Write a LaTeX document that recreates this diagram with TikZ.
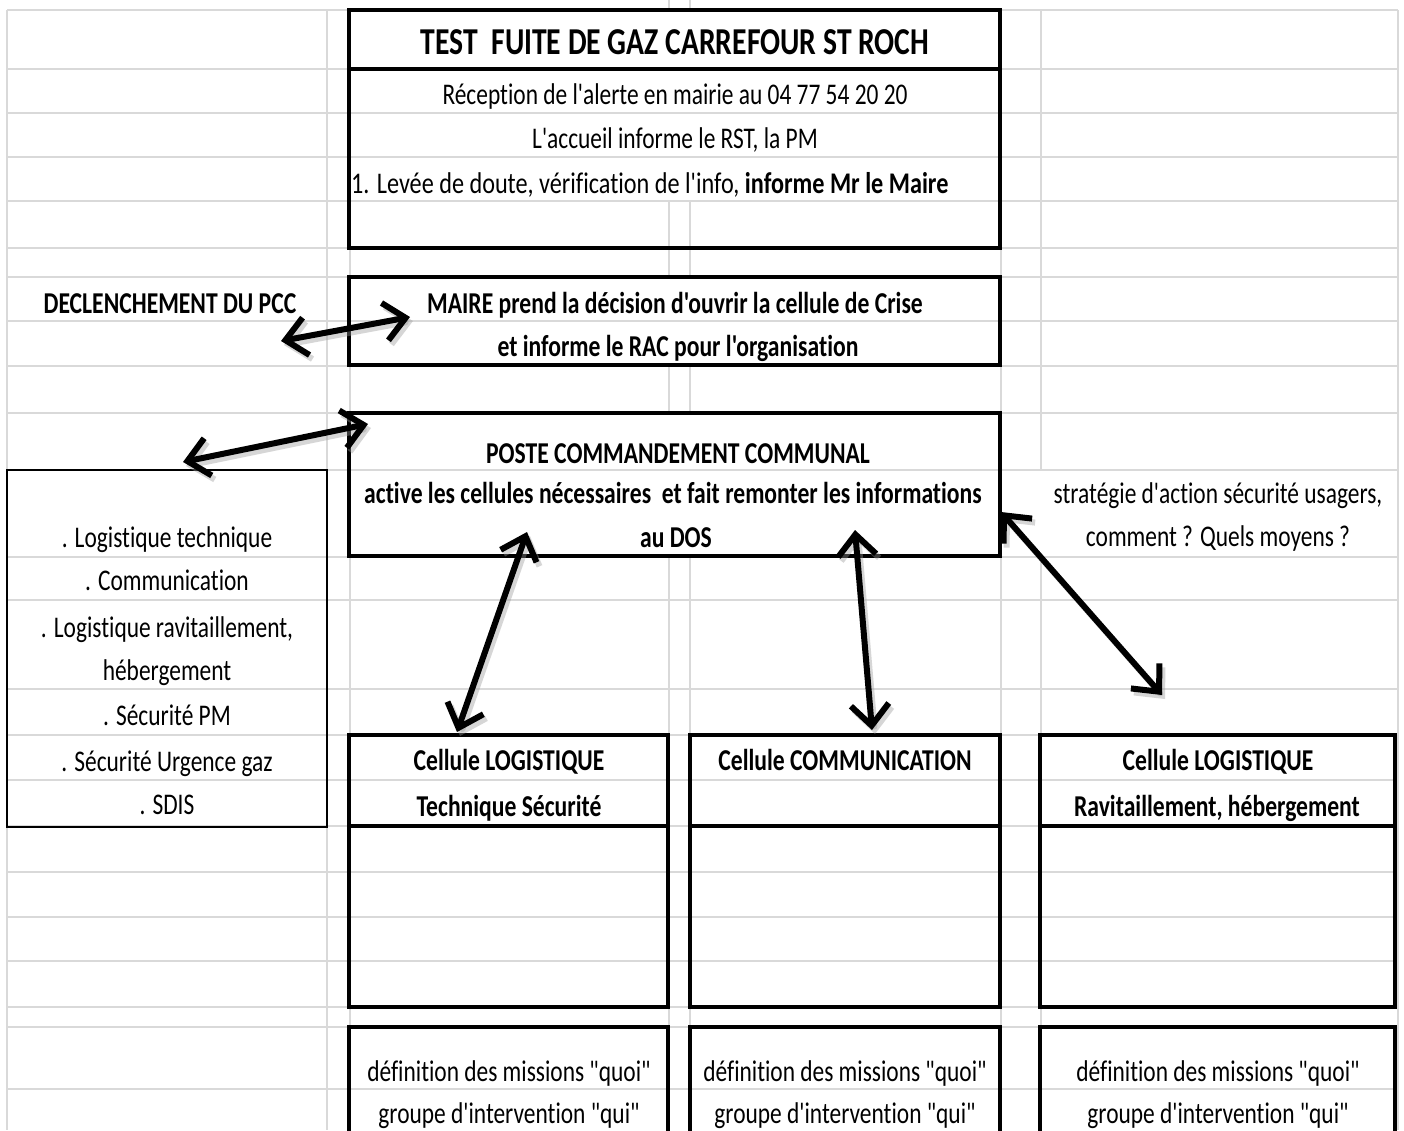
\documentclass[tikz,border=0pt]{standalone}
\usepackage{fontspec}
\usepackage{graphicx}
\defaultfontfeatures{}
\setmainfont{Carlito}[FakeStretch=0.78,Ligatures={TeXOff,CommonOff}]
\usetikzlibrary{arrows.meta}
\definecolor{gridgray}{RGB}{217,217,217}
\begin{document}
\begin{tikzpicture}[x=1pt,y=-1pt,
  grid/.style={draw=gridgray,line width=2.5pt},
  boxline/.style={draw=black,line width=4.5pt},
  box/.style={boxline,rectangle,inner sep=0pt,outer sep=0pt,minimum width=#1},
  thinbox/.style={draw=black,line width=2.5pt,rectangle,inner sep=0pt,outer sep=0pt},
  txt/.style={anchor=base,inner sep=0pt,font=\fontsize{30}{36}\selectfont},
  btxt/.style={txt,font=\fontsize{30.3}{36}\selectfont\bfseries},
  ttxt/.style={txt,font=\fontsize{38}{44}\selectfont\bfseries},
  dbl/.style={line width=6pt,line cap=round,line join=round,
    {Straight Barb[length=21pt,width=38pt]}-{Straight Barb[length=21pt,width=38pt]}},
  shadowarr/.style={dbl,draw=black!40,opacity=0.4,transform canvas={shift={(3pt,-4pt)}}}
]
\useasboundingbox (0,0) rectangle (1404,1130);
\fill[white] (0,0) rectangle (1404,1130);

% spreadsheet grid
\foreach \y in {10,69,113,157,201,248,277,321,366,413,470,557,600,689,735,780,826,872,917,961,1007,1027,1089}
  \draw[grid] (7,\y) -- (1398,\y);
\foreach \x in {7,327,350,1001,1398}
  \draw[grid] (\x,10) -- (\x,1130);
\draw[grid] (1041,10) -- (1041,470) (1041,557) -- (1041,1130);
\foreach \x in {669,690}
  \draw[grid] (\x,0) -- (\x,10) (\x,201) -- (\x,277) (\x,366) -- (\x,413) (\x,557) -- (\x,1130);

% boxes
\node[box=651pt,minimum height=238pt] (titlebox) at (674.5,129) {};
\draw[boxline] (349,69) -- (1000,69);
\node[box=651pt,minimum height=88pt] (mairebox) at (674.5,321) {};
\node[box=651pt,minimum height=143pt] (pccbox) at (674.5,484.5) {};
\node[thinbox,minimum width=320pt,minimum height=357pt] (listbox) at (167,648.5) {};

\node[box=319pt,minimum height=272pt] (cell1) at (508.5,871) {};
\node[box=310pt,minimum height=272pt] (cell2) at (845,871) {};
\node[box=355pt,minimum height=272pt] (cell3) at (1217.5,871) {};
\draw[boxline] (349,826) -- (668,826);
\draw[boxline] (690,826) -- (1000,826);
\draw[boxline] (1040,826) -- (1395,826);

\node[box=319pt,minimum height=120pt] (miss1) at (508.5,1087) {};
\node[box=310pt,minimum height=120pt] (miss2) at (845,1087) {};
\node[box=355pt,minimum height=120pt] (miss3) at (1217.5,1087) {};

% texts
\node[ttxt] (title) at (675,54) {TEST\ \ FUITE DE GAZ CARREFOUR ST ROCH};
\node[txt] (r1) at (675,104) {Réception de l'alerte en mairie au 04 77 54 20 20};
\node[txt] (r2) at (675,148) {L'accueil informe le RST, la PM};
\node[txt,anchor=base west] (r3) at (351,193) {\scalebox{1.035}[1]{1. Levée de doute, vérification de l'info, \textbf{informe Mr le Maire}}};

\node[btxt] (decl) at (170,313) {DECLENCHEMENT DU PCC};
\node[btxt] (m1) at (675,313) {MAIRE prend la décision d'ouvrir la cellule de Crise};
\node[btxt] (m2) at (678,356) {et informe le RAC pour l'organisation};

\node[btxt] (p1) at (678,463) {POSTE COMMANDEMENT COMMUNAL};
\node[btxt] (p2) at (673,503) {active les cellules nécessaires\ \ et fait remonter les informations};
\node[btxt] (p3) at (676,547) {au DOS};

\node[txt] (s1) at (1218,503) {stratégie d'action sécurité usagers,};
\node[txt] (s2) at (1218,546) {comment ? Quels moyens ?};

\node[txt] (l1) at (167,547) {. Logistique technique};
\node[txt] (l2) at (167,590) {. Communication};
\node[txt] (l3) at (167,637) {. Logistique ravitaillement,};
\node[txt] (l4) at (167,680) {hébergement};
\node[txt] (l5) at (167,725) {. Sécurité PM};
\node[txt] (l6) at (167,771) {. Sécurité Urgence gaz};
\node[txt] (l7) at (167,814) {. SDIS};

\node[btxt] (c1a) at (509,770) {Cellule LOGISTIQUE};
\node[btxt] (c1b) at (509,816) {Technique Sécurité};
\node[btxt] (c2a) at (845,770) {Cellule COMMUNICATION};
\node[btxt] (c3a) at (1218,770) {Cellule LOGISTIQUE};
\node[btxt] (c3b) at (1217,816) {Ravitaillement, hébergement};

\foreach \cx/\n in {509/1,845/2,1218/3}{
  \node[txt] (q\n) at (\cx,1081) {définition des missions "quoi"};
  \node[txt] (g\n) at (\cx,1123) {groupe d'intervention "qui"};
}

% arrow end points
\coordinate (a1s) at (281,341);
\coordinate (a1e) at (410,317);
\coordinate (a2s) at (183,462);
\coordinate (a2e) at (368,424);
\coordinate (a3s) at (527,532);
\coordinate (a3e) at (457,732);
\coordinate (a4s) at (855,530);
\coordinate (a4e) at (872,730);
\coordinate (a5s) at (1001,512);
\coordinate (a5e) at (1162,695);

\foreach \a in {a1,a2,a3,a4,a5}{
  \draw[shadowarr] (\a s) -- (\a e);
}
\foreach \a in {a1,a2,a3,a4,a5}{
  \draw[dbl] (\a s) -- (\a e);
}
\end{tikzpicture}
\end{document}
